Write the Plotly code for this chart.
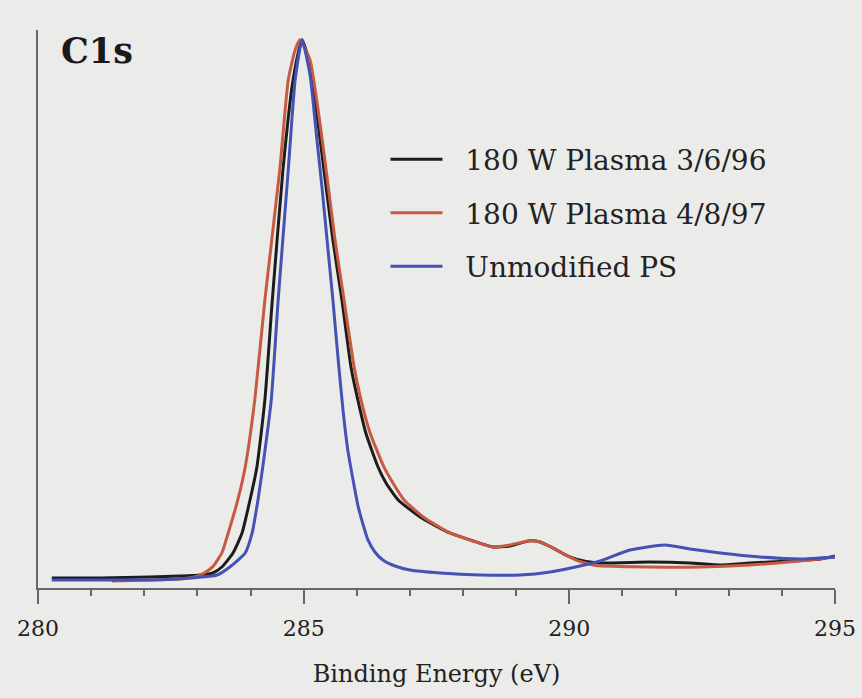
import plotly.graph_objects as go

# Binding energy (eV) and normalized intensity
black_x = [280.26, 281.17, 282.11, 282.67, 283.05, 283.29, 283.46, 283.67, 283.84, 283.99,
           284.12, 284.27, 284.41, 284.61, 284.80, 284.97, 285.12, 285.31, 285.55, 285.72, 285.89,
           286.02, 286.17, 286.40, 286.55, 286.78, 287.19, 287.75, 288.13, 288.56, 288.88,
           289.25, 289.45, 289.65, 289.90, 290.15, 290.50, 291.52, 292.27, 292.84, 293.40,
           294.15, 294.72, 295.00]
black_y = [1.82, 1.82, 2.01, 2.19, 2.37, 2.74, 3.83, 6.39, 10.04, 16.06,
           22.08, 34.31, 52.55, 76.28, 92.70, 100.0, 95.4, 81.75, 63.50, 52.55, 40.33,
           34.31, 28.28, 22.08, 19.16, 16.06, 12.96, 10.04, 8.76, 7.48, 7.66,
           8.60, 8.40, 7.50, 6.20, 5.20, 4.60, 4.74, 4.56, 4.20, 4.56,
           4.93, 5.29, 5.84]

red_x = [281.39, 282.11, 282.67, 282.95, 283.12, 283.29, 283.46, 283.58, 283.76, 283.90,
         284.08, 284.27, 284.55, 284.71, 284.84, 284.93, 285.12, 285.35, 285.59, 285.76,
         285.95, 286.08, 286.25, 286.51, 286.68, 286.89, 287.25, 287.75, 288.13, 288.56,
         288.88, 289.25, 289.45, 289.65, 289.90, 290.15, 290.50, 291.52, 292.46, 293.40,
         294.34, 295.00]
red_y = [1.28, 1.46, 1.64, 2.00, 2.70, 3.90, 6.39, 10.04, 16.06, 22.08,
         34.31, 52.55, 76.28, 92.70, 98.18, 100.0, 96.3, 81.75, 63.50, 52.55,
         40.33, 34.31, 28.28, 22.08, 19.16, 16.06, 12.96, 10.04, 8.76, 7.48,
         7.85, 8.60, 8.40, 7.50, 6.20, 5.00, 4.10, 3.83, 3.83, 4.20,
         4.93, 5.66]

blue_x = [280.26, 281.17, 282.11, 282.86, 283.37, 283.61, 283.90, 284.03, 284.14, 284.23,
          284.39, 284.52, 284.71, 284.84, 284.97, 285.12, 285.25, 285.35, 285.44, 285.55,
          285.65, 285.74, 285.83, 285.93, 286.02, 286.12, 286.21, 286.34, 286.49, 286.72,
          287.00, 287.57, 288.32, 289.07, 289.64, 290.20, 290.58, 291.14, 291.80, 292.27,
          292.84, 293.59, 294.34, 295.00]
blue_y = [1.46, 1.46, 1.46, 1.82, 2.37, 3.83, 6.39, 10.04, 16.06, 22.08,
          34.31, 52.55, 76.28, 92.70, 100.0, 93.6, 81.75, 72.6, 63.50, 52.55,
          41.6, 32.5, 25.2, 19.7, 15.1, 11.5, 8.76, 6.57, 5.11, 4.01,
          3.28, 2.74, 2.37, 2.37, 2.92, 4.01, 4.93, 6.93, 7.85, 7.12,
          6.39, 5.66, 5.29, 5.66]

series_names = ["180 W Plasma 3/6/96", "180 W Plasma 4/8/97", "Unmodified PS"]
series_colors = ["#1c1c1c", "#c85a44", "#4452b4"]
x_ticks = [280, 285, 290, 295]

fig = go.Figure()
for name, xs, ys, col in zip(series_names, [black_x, red_x, blue_x],
                             [black_y, red_y, blue_y], series_colors):
    fig.add_trace(go.Scatter(x=xs, y=ys, mode="lines", name="\u00a0\u00a0" + name, legendgroup=name,
                             line=dict(color=col, width=3, shape="spline", smoothing=0.5)))

font_family = "DejaVu Serif"
bg = "#ebebe9"
fig.update_layout(
    width=862, height=698,
    margin=dict(l=38, r=27, t=30, b=110),
    paper_bgcolor=bg, plot_bgcolor=bg,
    font=dict(family=font_family, color="#222222"),
    showlegend=True,
    legend=dict(x=0.436, y=0.8125, xanchor="left", yanchor="top",
                font=dict(size=28, family=font_family, color="#222222"),
                bgcolor="rgba(0,0,0,0)", tracegroupgap=14, itemwidth=52),
    xaxis=dict(range=[280, 295], tickvals=x_ticks, ticktext=[str(t) for t in x_ticks],
               ticks="outside", ticklen=14, tickcolor="#666666", tickwidth=1.5,
               minor=dict(dtick=1, ticks="outside", ticklen=6, tickcolor="#666666", tickwidth=1.5),
               showline=True, linecolor="#666666", linewidth=1.5, showgrid=False, zeroline=False,
               automargin=False, ticklabelstandoff=6,
               tickfont=dict(size=22, family=font_family, color="#222222"),
               title=dict(text="Binding Energy (eV)", font=dict(size=24, family=font_family, color="#222222"),
                          standoff=25)),
    yaxis=dict(range=[0, 101.8], showticklabels=False, ticks="", showgrid=False, zeroline=False,
               automargin=False,
               showline=True, linecolor="#666666", linewidth=1.5),
)
fig.add_annotation(text="<b>C1s</b>", xref="paper", yref="paper", x=0.026, y=1.0, yshift=2,
                   xanchor="left", yanchor="top", showarrow=False,
                   font=dict(size=35, family=font_family, color="#1a1a1a"))

fig.write_html("out.html", config={"displayModeBar": False},
               post_script="document.body.style.margin='0';document.body.style.background='%s';" % bg)
